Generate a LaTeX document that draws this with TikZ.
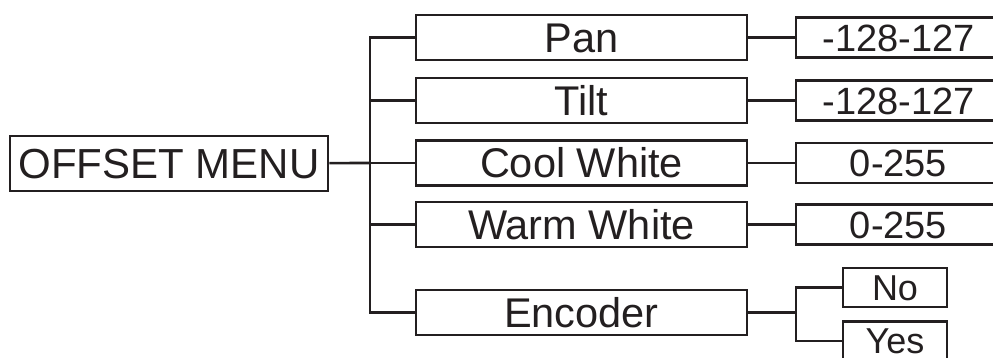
\documentclass[tikz,border=0pt]{standalone}
\usepackage{fontspec}
\setmainfont{Liberation Sans}
\usepackage{xcolor}
\definecolor{ink}{HTML}{231F20}

\begin{document}
\begin{tikzpicture}[x=1pt, y=-1pt, inner sep=0pt, line width=2.6pt, color=ink]
		\tikzstyle{every node}=[draw, text depth=0pt]
		\tikzstyle{rootbox}=[minimum width=318pt, minimum height=55pt, text height=30pt, font=\fontsize{42}{48}\selectfont]
		\tikzstyle{menubox}=[minimum width=331pt, minimum height=45pt, text height=29.7pt, font=\fontsize{41.5}{48}\selectfont]
		\tikzstyle{valbox}=[minimum width=205pt, minimum height=40pt, text height=27.2pt, font=\fontsize{38}{44}\selectfont]
		\tikzstyle{choicebox}=[minimum width=104pt, minimum height=39pt, text height=25.8pt, font=\fontsize{36}{42}\selectfont]
			\useasboundingbox (0, 0) rectangle (993, 358);
			\clip (0, 0) rectangle (993, 358);

			\node[rootbox] (offset) at (169, 163.5) {OFFSET MENU};

			\node[menubox] (pan) at (581.5, 37.5) {Pan};
			\node[menubox] (tilt) at (581.5, 100.5) {Tilt};
			\node[menubox] (coolwhite) at (581.5, 163) {Cool White};
			\node[menubox] (warmwhite) at (581.5, 224.5) {Warm White};
			\node[menubox] (encoder) at (581.5, 312.5) {Encoder};

			\node[valbox] (panval) at (898.5, 37.5) {-128-127};
			\node[valbox] (tiltval) at (898.5, 100.5) {-128-127};
			\node[valbox] (coolval) at (898.5, 163) {0-255};
			\node[valbox] (warmval) at (898.5, 224.5) {0-255};

			\node[choicebox] (no) at (895, 287.5) {No};
			\node[choicebox] (yes) at (895, 341) {Yes};

			\coordinate (menusplit) at (370, 163);
			\coordinate (encsplit) at (796, 312.5);

			\draw (offset) -- (menusplit);
			\draw (menusplit) |- (pan);
			\draw (menusplit) |- (tilt);
			\draw (menusplit) -- (coolwhite);
			\draw (menusplit) |- (warmwhite);
			\draw (menusplit) |- (encoder);

			\draw (pan) -- (panval);
			\draw (tilt) -- (tiltval);
			\draw (coolwhite) -- (coolval);
			\draw (warmwhite) -- (warmval);

			\draw (encoder) -- (encsplit);
			\draw (encsplit) |- (no);
			\draw (encsplit) |- (yes);
		\end{tikzpicture}
\end{document}
